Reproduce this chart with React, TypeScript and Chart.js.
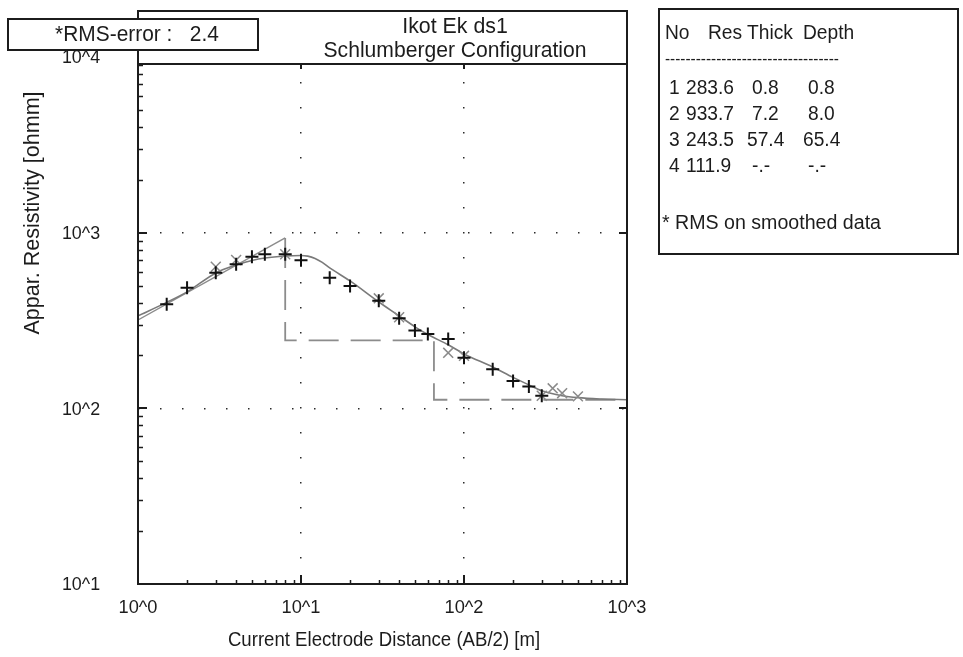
import React, { useEffect, useRef } from "react";
import { Chart, registerables } from "chart.js";

Chart.register(...registerables);

// Field sounding: half electrode spacing AB/2 [m] and apparent resistivity [ohm m]
const abHalf = [1.5, 2, 3, 4, 5, 6, 8, 10, 15, 20, 30, 40, 50, 60, 80, 100, 150, 200, 250, 300];
const rhoField = [391, 486, 592, 661, 730, 754, 754, 696, 554, 497, 409, 326, 277, 265, 248, 194, 167, 143, 133, 118];

// Smoothed readings
const abSmooth = [3, 4, 8, 30, 40, 80, 100, 300, 350, 400, 500];
const rhoSmooth = [640, 699, 754, 423, 330, 207, 199, 118, 130, 122, 117];

// Computed response of the layered model
const abModel = [1, 1.5, 2, 3, 4, 5, 6, 8, 10, 11, 12.2, 13.5, 15, 20, 30, 40, 50, 60, 80, 100, 150, 200, 250, 300, 400, 500, 700, 1000];
const rhoModel = [336, 401, 460, 590, 655, 695, 718, 737, 742, 735, 713, 677, 630, 531, 403, 336, 291, 263, 230, 204, 172, 150, 136, 126, 118, 115, 113, 112];

// Layered model
const layerNo = ["1", "2", "3", "4"];
const layerRes = [283.6, 933.7, 243.5, 111.9];
const layerThick = [0.8, 7.2, 57.4];
const layerDepth = [0.8, 8.0, 65.4];

const xDecades = [1, 10, 100, 1000];
const yDecades = [10, 100, 1000, 10000];
const xTickLabels = ["10^0", "10^1", "10^2", "10^3"];
const yTickLabels = ["10^1", "10^2", "10^3", "10^4"];

const rmsError = 2.4;
const titleLines = ["Ikot Ek ds1", "Schlumberger Configuration"];
const xTitle = "Current Electrode Distance (AB/2) [m]";
const yTitle = "Appar. Resistivity [ohmm]";
const tableHeader = ["No", "Res", "Thick", "Depth"];
const tableNote = "* RMS on smoothed data";

const FONT = '"Liberation Sans", Arial, sans-serif';
const INK = "#1c1c1c";

function drawText(
  ctx: CanvasRenderingContext2D,
  s: string,
  x: number,
  y: number,
  size: number,
  align: CanvasTextAlign = "left",
  sx = 1,
  rot = 0
) {
  ctx.save();
  ctx.translate(x, y);
  if (rot) ctx.rotate(rot);
  ctx.scale(sx, 1);
  ctx.font = `${size}px ${FONT}`;
  ctx.textAlign = align;
  ctx.textBaseline = "middle";
  ctx.fillStyle = INK;
  ctx.fillText(s, 0, 0);
  ctx.restore();
}

const framePlugin = {
  id: "sondageFrame",
  beforeDraw(chart: any) {
    const { ctx, width, height } = chart;
    ctx.save();
    ctx.fillStyle = "#ffffff";
    ctx.fillRect(0, 0, width, height);
    ctx.restore();
  },
  afterDraw(chart: any) {
    const { ctx } = chart;
    const xs = chart.scales.x;
    const ys = chart.scales.y;
    const { left: L, right: R, bottom: B } = chart.chartArea;
    const boxTop = 11;
    const plotTop = 64;

    ctx.save();
    // title box over the top of the plot
    ctx.fillStyle = "#ffffff";
    ctx.fillRect(L, boxTop, R - L, plotTop - boxTop);

    ctx.strokeStyle = INK;
    ctx.lineWidth = 2;
    ctx.strokeRect(L, boxTop, R - L, B - boxTop);
    ctx.beginPath();
    ctx.moveTo(L, plotTop);
    ctx.lineTo(R, plotTop);
    ctx.stroke();

    // tick marks drawn inside the frame
    ctx.lineWidth = 1.5;
    ctx.beginPath();
    for (let d = 0; d < yDecades.length - 1; d++) {
      for (let m = 2; m <= 9; m++) {
        const py = Math.round(ys.getPixelForValue(yDecades[d] * m)) + 0.5;
        if (py < plotTop + 1) continue;
        ctx.moveTo(L, py);
        ctx.lineTo(L + 5, py);
      }
    }
    for (let d = 0; d < xDecades.length - 1; d++) {
      for (let m = 2; m <= 9; m++) {
        const px = Math.round(xs.getPixelForValue(xDecades[d] * m)) + 0.5;
        ctx.moveTo(px, B);
        ctx.lineTo(px, B - 4);
      }
    }
    ctx.stroke();
    ctx.lineWidth = 2;
    ctx.beginPath();
    for (const v of yDecades.slice(1, -1)) {
      const py = Math.round(ys.getPixelForValue(v));
      ctx.moveTo(L, py);
      ctx.lineTo(L + 9, py);
      ctx.moveTo(R, py);
      ctx.lineTo(R - 8, py);
    }
    for (const v of xDecades.slice(1, -1)) {
      const px = Math.round(xs.getPixelForValue(v));
      ctx.moveTo(px, B);
      ctx.lineTo(px, B - 9);
      ctx.moveTo(px, plotTop);
      ctx.lineTo(px, plotTop + 5);
    }
    ctx.stroke();
    ctx.restore();

    // axis titles
    drawText(ctx, xTitle, 384, 640, 20, "center", 0.93);
    drawText(ctx, yTitle, 33, 213, 22, "center", 0.98, -Math.PI / 2);

    // title
    drawText(ctx, titleLines[0], 455, 27, 22, "center", 0.97);
    drawText(ctx, titleLines[1], 455, 51, 22, "center", 0.96);

    // RMS box
    ctx.save();
    ctx.fillStyle = "#ffffff";
    ctx.fillRect(8, 19, 250, 31);
    ctx.strokeStyle = INK;
    ctx.lineWidth = 2;
    ctx.strokeRect(8, 19, 250, 31);
    ctx.restore();
    drawText(ctx, `*RMS-error :   ${rmsError.toFixed(1)}`, 137, 35, 22, "center", 0.95);

    // tick labels
    xDecades.forEach((v, i) => drawText(ctx, xTickLabels[i], xs.getPixelForValue(v), 608, 19, "center", 0.96));
    yDecades.forEach((v, i) =>
      drawText(ctx, yTickLabels[i], 81, ys.getPixelForValue(v) + 1, 19, "center", 0.94)
    );

    // layer table
    ctx.save();
    ctx.strokeStyle = INK;
    ctx.lineWidth = 2;
    ctx.strokeRect(659, 9, 299, 245);
    ctx.restore();
    const hx = [665, 708, 747, 803];
    tableHeader.forEach((h, i) => drawText(ctx, h, hx[i], 33, 20, "left", 0.96));
    drawText(ctx, "-".repeat(34), 665, 60, 16, "left", 0.96);
    const colNo = 669;
    const colRes = 686;
    const colThick = 752;
    const colDepth = 808;
    layerNo.forEach((n, i) => {
      const y = 88 + i * 26;
      const thick = i < layerThick.length ? layerThick[i].toFixed(1) : "-.-";
      const depth = i < layerDepth.length ? layerDepth[i].toFixed(1) : "-.-";
      drawText(ctx, n, colNo, y, 20, "left", 0.96);
      drawText(ctx, layerRes[i].toFixed(1), colRes, y, 20, "left", 0.96);
      drawText(ctx, thick, colThick - (thick.length > 3 ? 5 : 0), y, 20, "left", 0.96);
      drawText(ctx, depth, colDepth - (depth.length > 3 ? 5 : 0), y, 20, "left", 0.96);
    });
    drawText(ctx, tableNote, 662, 223, 20, "left", 0.98);
  },
};

export default function App() {
  const ref = useRef<HTMLCanvasElement | null>(null);

  useEffect(() => {
    if (!ref.current) return;
    const pts = (xs: number[], ys: number[]) => xs.map((x, i) => ({ x, y: ys[i] }));

    // model section: sloping first segment, dashed steps after it
    const slope = [
      { x: layerDepth[0], y: layerRes[0] },
      { x: layerDepth[1], y: layerRes[1] },
    ];
    const steps = [
      { x: layerDepth[1], y: layerRes[1] },
      { x: layerDepth[1], y: layerRes[2] },
      { x: layerDepth[2], y: layerRes[2] },
      { x: layerDepth[2], y: layerRes[3] },
      { x: xDecades[xDecades.length - 1], y: layerRes[3] },
    ];

    const dotted = (spacing: number) => ({
      grid: {
        color: (c: any) =>
          c.tick && (c.index === 0 || c.index === 3) ? "rgba(0,0,0,0)" : "#2a2a2a",
        lineWidth: 1.5,
        drawTicks: false,
      },
      border: { display: false, dash: [1.5, spacing] },
    });

    const chart = new Chart(ref.current, {
      type: "scatter",
      data: {
        datasets: [
          {
            label: "field",
            data: pts(abHalf, rhoField),
            pointStyle: "cross",
            pointRadius: 6.5,
            borderColor: "#111111",
            borderWidth: 2,
            showLine: false,
          },
          {
            label: "smoothed",
            data: pts(abSmooth, rhoSmooth),
            pointStyle: "crossRot",
            pointRadius: 7,
            borderColor: "#8a8a8a",
            borderWidth: 1.5,
            showLine: false,
          },
          {
            label: "model curve",
            data: pts(abModel, rhoModel),
            showLine: true,
            borderColor: "#7a7a7a",
            borderWidth: 1.6,
            pointRadius: 0,
            cubicInterpolationMode: "monotone",
          },
          {
            label: "section",
            data: slope,
            showLine: true,
            borderColor: "#8c8c8c",
            borderWidth: 1.5,
            pointRadius: 0,
          },
          {
            label: "section steps",
            data: steps,
            showLine: true,
            borderColor: "#8c8c8c",
            borderWidth: 1.8,
            borderDash: [30, 12],
            pointRadius: 0,
          },
        ],
      },
      options: {
        responsive: false,
        animation: false,
        events: [],
        layout: { padding: { left: 138, right: 336, top: 57, bottom: 73 } },
        plugins: { legend: { display: false }, tooltip: { enabled: false }, title: { display: false } },
        scales: {
          x: {
            type: "logarithmic",
            min: 1,
            max: 1000,
            ticks: { display: false },
            afterBuildTicks: (s: any) => {
              s.ticks = xDecades.map((value) => ({ value }));
            },
            afterFit: (s: any) => {
              s.height = 0;
            },
            ...dotted(23.5),
          },
          y: {
            type: "logarithmic",
            min: 10,
            max: 10000,
            ticks: { display: false },
            afterBuildTicks: (s: any) => {
              s.ticks = yDecades.map((value) => ({ value }));
            },
            afterFit: (s: any) => {
              s.width = 0;
            },
            ...dotted(20.5),
          },
        },
      } as any,
      plugins: [framePlugin],
    });
    return () => chart.destroy();
  }, []);

  return (
    <div style={{ position: "fixed", left: 0, top: 0, width: 963, height: 657, background: "#fff" }}>
      <canvas ref={ref} width={963} height={657} style={{ display: "block" }} />
    </div>
  );
}
